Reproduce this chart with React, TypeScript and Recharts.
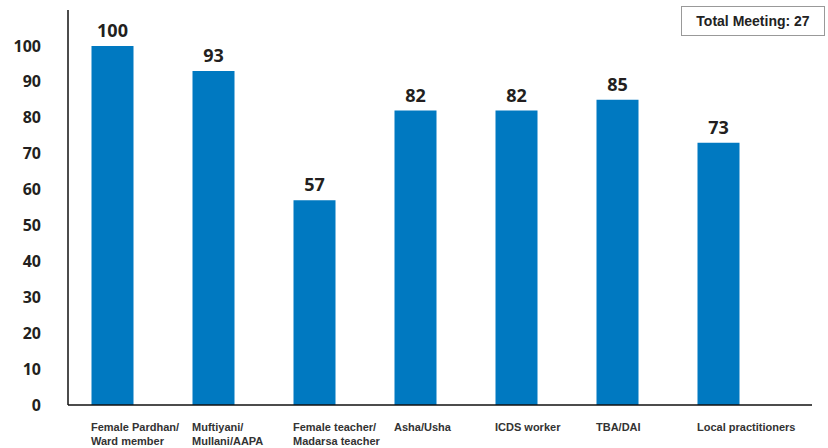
import React from "react";
import { BarChart, Bar, XAxis, YAxis, LabelList } from "recharts";

const categories = [
  "Female Pardhan/\nWard member",
  "Muftiyani/\nMullani/AAPA",
  "Female teacher/\nMadarsa teacher",
  "Asha/Usha",
  "ICDS worker",
  "TBA/DAI",
  "Local practitioners",
];
const values = [100, 93, 57, 82, 82, 85, 73];
const yTicks = [0, 10, 20, 30, 40, 50, 60, 70, 80, 90, 100];

const data = categories.map((name, i) => ({ name, value: values[i] }));

const CategoryTick = ({ x, y, payload }: any) => {
  const lines = String(payload.value).split("\n");
  return (
    <text
      x={x - 21}
      y={y + 18}
      textAnchor="start"
      fill="#333"
      fontSize={11}
      fontWeight={700}
      fontFamily="Liberation Sans, Arial, sans-serif"
    >
      {lines.map((l, i) => (
        <tspan key={i} x={x - 21} dy={i === 0 ? 0 : 14}>
          {l}
        </tspan>
      ))}
    </text>
  );
};

export default function App() {
  return (
    <div style={{ position: "absolute", left: 0, top: 0, width: 828, height: 448, background: "#fff" }}>
      <BarChart
        width={828}
        height={448}
        data={data}
        margin={{ top: 10, right: 16, left: 0, bottom: 0 }}
        barSize={42}
      >
        <XAxis
          dataKey="name"
          interval={0}
          height={43}
          axisLine={{ stroke: "#111", strokeWidth: 1.5 }}
          tickLine={false}
          tick={<CategoryTick />}
          padding={{ left: -6.5, right: 43.5 }}
        />
        <YAxis
          width={68}
          domain={[0, 110]}
          ticks={yTicks}
          interval={0}
          axisLine={{ stroke: "#111", strokeWidth: 1.5 }}
          tickLine={false}
          tickSize={0}
          tickMargin={27}
          tick={{ fill: "#231f20", fontSize: 16, fontWeight: 700, fontFamily: "Open Sans, sans-serif" }}
        />
        <Bar dataKey="value" fill="#0079c1" isAnimationActive={false}>
          <LabelList
            dataKey="value"
            position="top"
            offset={9}
            fill="#231f20"
            fontSize={18}
            fontWeight={700}
            fontFamily="Open Sans, sans-serif"
          />
        </Bar>
      </BarChart>
      <div
        style={{
          position: "absolute",
          left: 681,
          top: 6,
          width: 144,
          height: 30,
          border: "1px solid #999",
          boxSizing: "border-box",
          display: "flex",
          alignItems: "center",
          justifyContent: "center",
          fontFamily: "Liberation Sans, Arial, sans-serif",
          fontWeight: 700,
          fontSize: 14,
          color: "#222",
        }}
      >
        Total Meeting: 27
      </div>
    </div>
  );
}
